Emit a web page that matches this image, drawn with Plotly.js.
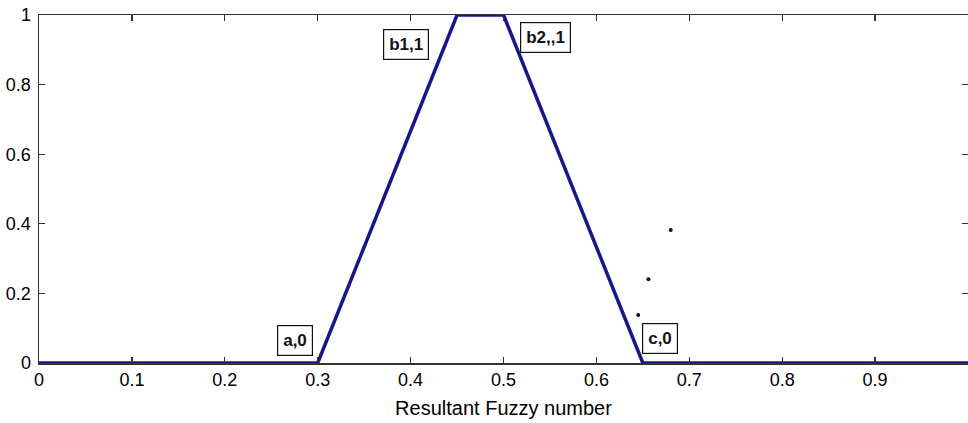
<!DOCTYPE html>
<html>
<head>
<meta charset="utf-8">
<script src="https://cdn.plot.ly/plotly-3.0.1.min.js"></script>
<style>html,body{margin:0;padding:0;background:#fff;}#chart{width:968px;height:423px;}</style>
</head>
<body>
<div id="chart"></div>
<script>
// Trapezoidal fuzzy number
const xVals = [0, 0.3, 0.45, 0.5, 0.65, 1];
const yVals = [0, 0, 1, 1, 0, 0];
// stray dots
const dotX = [0.645, 0.656, 0.68];
const dotY = [0.138, 0.241, 0.382];
// point labels
const labelText = ["a,0", "b1,1", "b2,,1", "c,0"];
const labelX = [0.276, 0.395, 0.545, 0.668];
const labelY = [0.066, 0.914, 0.934, 0.069];
const xTicks = [0, 0.1, 0.2, 0.3, 0.4, 0.5, 0.6, 0.7, 0.8, 0.9];
const xTickText = ["0", "0.1", "0.2", "0.3", "0.4", "0.5", "0.6", "0.7", "0.8", "0.9"];
const yTicks = [0, 0.2, 0.4, 0.6, 0.8, 1];
const yTickText = ["0", "0.2", "0.4", "0.6", "0.8", "1"];

const font = "Liberation Sans, Arial, sans-serif";

const traces = [
  {x: xVals, y: yVals, type: "scatter", mode: "lines",
   line: {color: "#17178a", width: 3.5}, cliponaxis: false, hoverinfo: "skip"},
  {x: dotX, y: dotY, type: "scatter", mode: "markers",
   marker: {color: "#111", size: 4}, hoverinfo: "skip"}
];

const annotations = labelText.map((t, i) => ({
  x: labelX[i], y: labelY[i], xref: "x", yref: "y", text: "<b>" + t + "</b>", showarrow: false,
  font: {family: font, size: 17, color: "#111"},
  bordercolor: "#111", borderwidth: 1.2, borderpad: 5, bgcolor: "#fff"
}));

const axisCommon = {
  showgrid: false, zeroline: false, showline: true, linecolor: "#333", linewidth: 1.5,
  mirror: "ticks", ticks: "inside", ticklen: 6, tickcolor: "#333", tickwidth: 1.2,
  tickfont: {family: font, size: 18, color: "#000"}
};

const layout = {
  width: 968, height: 423,
  margin: {l: 39, r: 0, t: 15, b: 60},
  paper_bgcolor: "#fff", plot_bgcolor: "#fff",
  showlegend: false,
  xaxis: Object.assign({}, axisCommon, {
    range: [0, 1], tickvals: xTicks, ticktext: xTickText,
    title: {text: "Resultant Fuzzy number", font: {family: font, size: 20, color: "#000"}, standoff: 12}
  }),
  yaxis: Object.assign({}, axisCommon, {
    range: [0, 1], tickvals: yTicks, ticktext: yTickText, ticklabelstandoff: 3
  }),
  annotations: annotations
};

Plotly.newPlot("chart", traces, layout, {displayModeBar: false, staticPlot: true});
</script>
</body>
</html>
